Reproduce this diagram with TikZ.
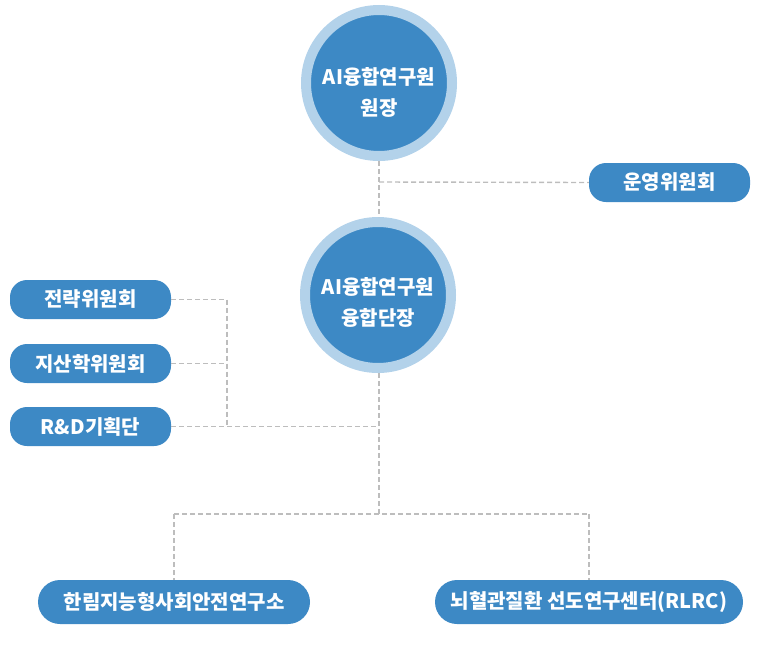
\documentclass[tikz,border=0pt]{standalone}
\usepackage{fontspec}
\newfontfamily\kr{Noto Sans CJK KR}
\definecolor{boxblue}{HTML}{3D89C5}
\definecolor{ringblue}{HTML}{B3D2EA}
\definecolor{dashgray}{HTML}{BDBDBD}
\begin{document}
\begin{tikzpicture}[x=1pt,y=-1pt,
  lbl/.style={font=\kr\bfseries\fontsize{20}{31}\selectfont, text=white, align=center},
  ring/.style={circle, fill=boxblue, draw=ringblue, line width=10pt, minimum size=146pt, inner sep=0pt},
  rbox/.style={rounded corners=17pt, fill=boxblue, inner sep=0pt, lbl},
  pill/.style={rounded corners=22pt, fill=boxblue, inner sep=0pt, lbl},
  conn/.style={draw=dashgray, line width=1.4pt, dash pattern=on 5pt off 3pt}]
\useasboundingbox (0,0) rectangle (760,656);
\node[ring] (top) at (379,83) {};
\node[lbl] (toptext) at (379,92) {AI융합연구원\\원장};
\node[ring] (mid) at (378,295) {};
\node[lbl] (midtext) at (378,302) {AI융합연구원\\융합단장};
\node[rbox, minimum width=161pt, minimum height=39pt] (op) at (669.5,182.5) {운영위원회};
\node[rbox, minimum width=161pt, minimum height=39pt] (st) at (90.5,299.5) {전략위원회};
\node[rbox, minimum width=161pt, minimum height=39pt] (ji) at (90.5,363.5) {지산학위원회};
\node[rbox, minimum width=161pt, minimum height=39pt] (rd) at (90.5,426.5) {R\&D기획단};
\node[pill, minimum width=272pt, minimum height=44pt] (hl) at (174,602) {한림지능형사회안전연구소};
\node[pill, minimum width=308pt, minimum height=44pt] (nh) at (589,602) {뇌혈관질환 선도연구센터(RLRC)};
\coordinate (j1) at (379,182);
\coordinate (j2) at (227,299.5);
\coordinate (j3) at (227,363.5);
\coordinate (j4) at (227,426.5);
\coordinate (j5) at (379,426.5);
\coordinate (j6) at (379,514);
\coordinate (j7) at (174,514);
\coordinate (j8) at (589,514);
\draw[conn] (379,161) -- (379,217);
\draw[conn] (j1) -- (op.west);
\draw[conn] (st.east) -- (j2) -- (j4);
\draw[conn] (ji.east) -- (j3);
\draw[conn] (rd.east) -- (j5);
\draw[conn] (379,373) -- (j6);
\draw[conn] (j7) -- (j8);
\draw[conn] (j7) -- (hl.north);
\draw[conn] (j8) -- (nh.north);
\end{tikzpicture}
\end{document}
